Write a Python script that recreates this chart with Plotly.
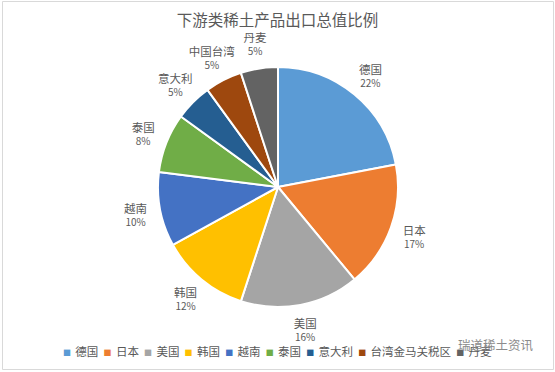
import plotly.graph_objects as go

# ---- data ----
legend_names = ["德国", "日本", "美国", "韩国", "越南", "泰国", "意大利", "台湾金马关税区", "丹麦"]
label_names = ["德国", "日本", "美国", "韩国", "越南", "泰国", "意大利", "中国台湾", "丹麦"]
values = [22, 17, 16, 12, 10, 8, 5, 5, 5]
colors = ["#5B9BD5", "#ED7D31", "#A5A5A5", "#FFC000", "#4472C4",
          "#70AD47", "#255E91", "#9E480E", "#636363"]
title_text = "下游类稀土产品出口总值比例"
watermark = "瑞道稀土资讯"

W, H = 555, 372
FONT = "Noto Sans CJK SC"
GREY = "#595959"

# pie geometry (pixels)
cx, cy, r = 278, 187, 120
# invisible label ring (labels sit at its mid radius)
r_in, r_out = 122, 168


def dom(rad):
    return dict(x=[(cx - rad) / W, (cx + rad) / W],
                y=[(H - cy - rad) / H, (H - cy + rad) / H])


fig = go.Figure()
fig.add_trace(go.Pie(
    labels=legend_names,
    values=values,
    sort=False,
    direction="clockwise",
    rotation=0,
    marker=dict(colors=colors, line=dict(color="white", width=2)),
    textinfo="none",
    showlegend=False,
    hoverinfo="label+percent",
    domain=dom(r),
))

# transparent ring that carries the data labels
fig.add_trace(go.Pie(
    labels=legend_names,
    values=values,
    text=label_names,
    sort=False,
    direction="clockwise",
    rotation=0,
    hole=r_in / r_out,
    marker=dict(colors=["rgba(0,0,0,0)"] * len(values), line=dict(width=0)),
    textposition="inside",
    insidetextorientation="horizontal",
    texttemplate="<span style='font-size:11.5px'>%{text}</span><br>%{percent:.0%}",
    textfont=dict(family=FONT, size=10, color=GREY),
    showlegend=False,
    hoverinfo="skip",
    domain=dom(r_out),
))

# legend built from the category/colour arrays
nb = "\u00a0"
items = []
for name, c in zip(legend_names, colors):
    items.append(f"<span style='color:{c};font-size:8px'>■{nb}</span>{nb}{name}")
legend_html = (nb * 2).join(items)

fig.add_annotation(
    x=277 / W, y=1 - 351 / H, xref="paper", yref="paper",
    text=legend_html, showarrow=False,
    font=dict(family=FONT, size=11.5, color=GREY),
    xanchor="center", yanchor="middle",
)

fig.add_annotation(
    x=496 / W, y=1 - 344 / H, xref="paper", yref="paper",
    text=watermark, showarrow=False,
    font=dict(family=FONT, size=12.5, color="#8c8c8c"),
    xanchor="center", yanchor="middle",
)

fig.add_shape(type="rect", xref="paper", yref="paper",
              x0=2.5 / W, x1=553.5 / W, y0=1 - 369.5 / H, y1=1 - 1.5 / H,
              line=dict(color="#D9D9D9", width=1), fillcolor="rgba(0,0,0,0)")

fig.update_layout(
    width=W, height=H,
    margin=dict(l=0, r=0, t=0, b=0),
    paper_bgcolor="white",
    plot_bgcolor="white",
    uniformtext=dict(minsize=10, mode="show"),
    title=dict(text=title_text, x=0.5, xanchor="center",
               y=1 - 21 / H, yanchor="middle",
               font=dict(family=FONT, size=15.5, color=GREY)),
)

fig.write_html("out.html")
